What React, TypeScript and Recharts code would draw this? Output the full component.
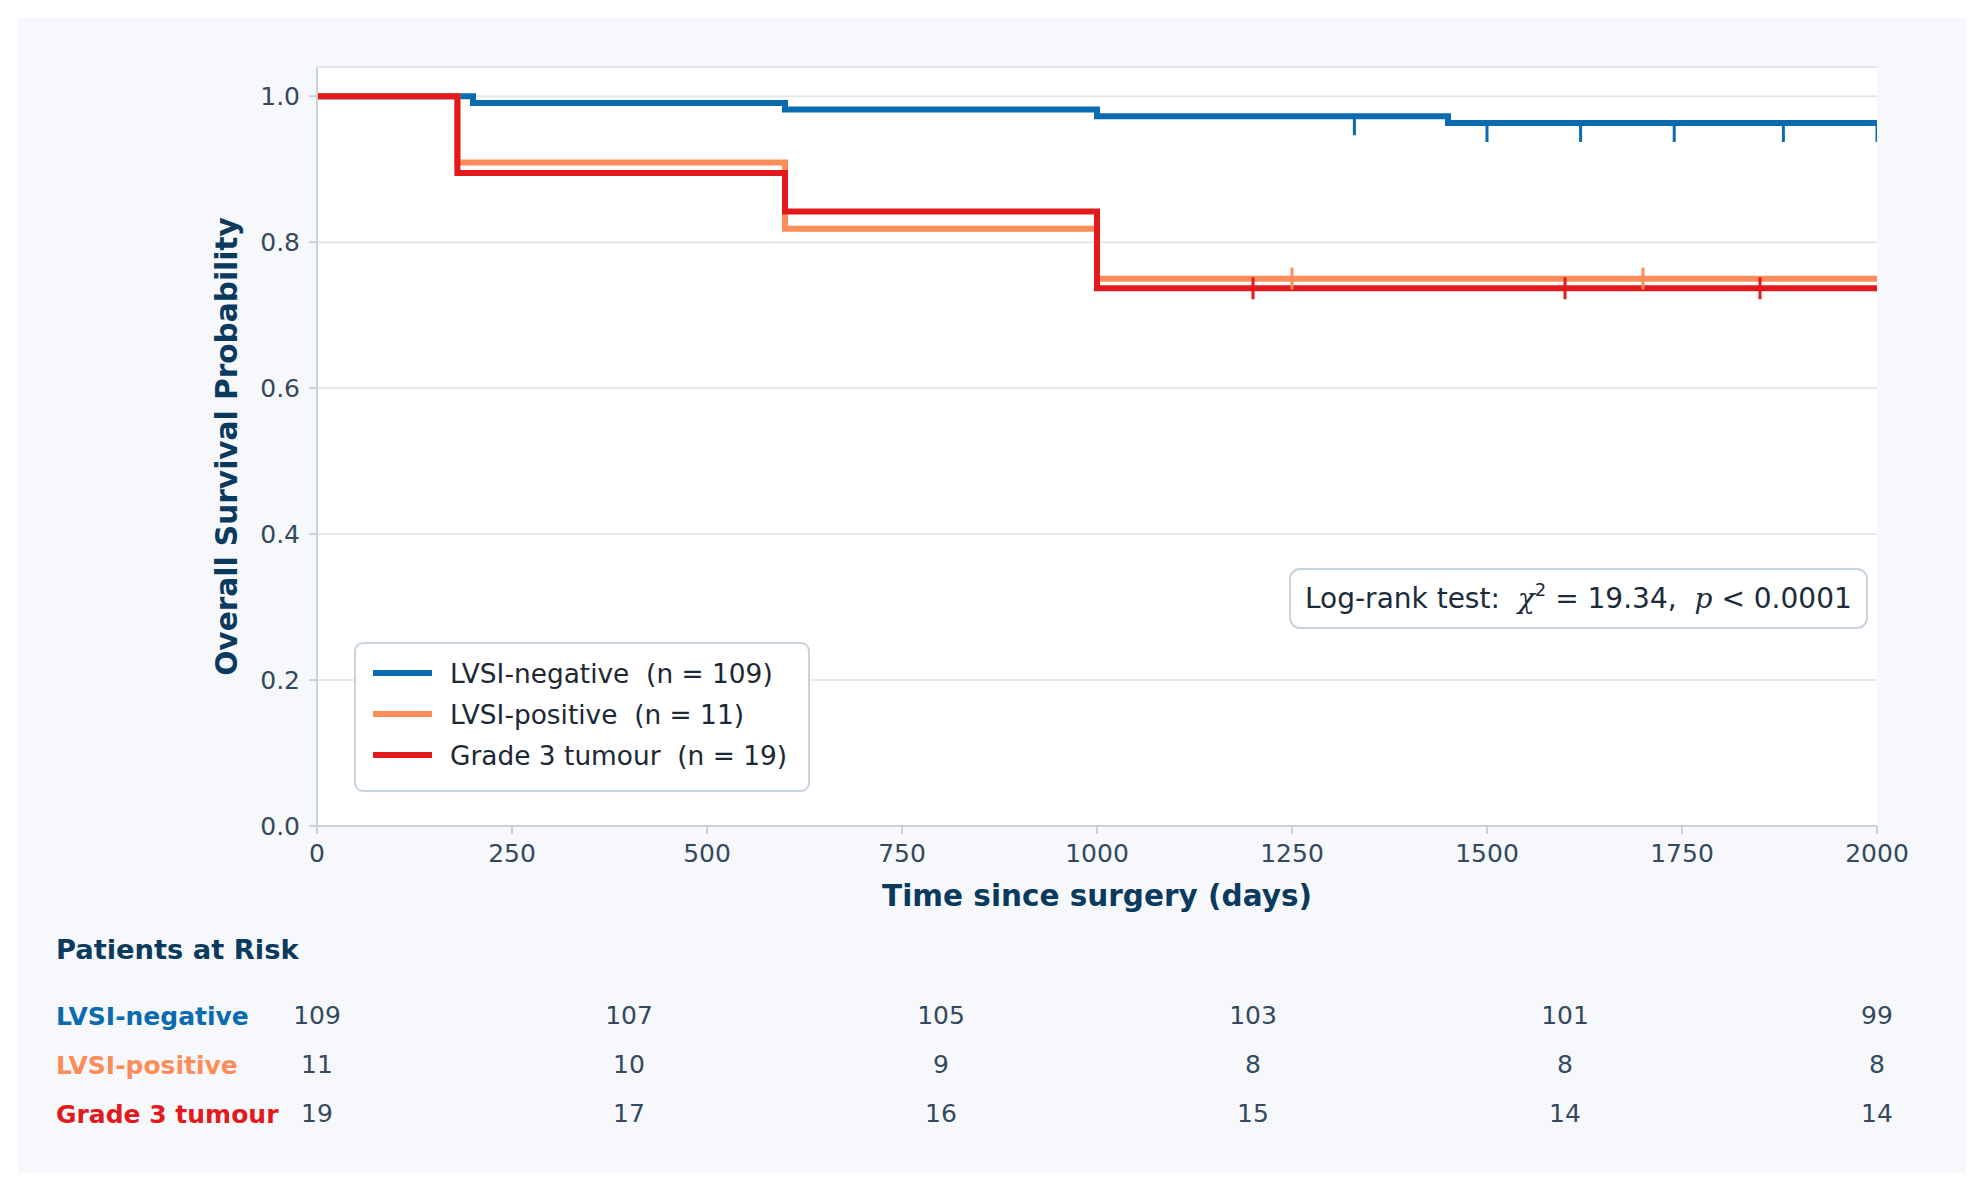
import React from 'react'
import { ComposedChart, Line, Scatter, XAxis, YAxis, CartesianGrid } from 'recharts'

// Kaplan-Meier step points (time in days, survival probability)
const lvsiNeg = [
  { t: 0, s: 1 },
  { t: 200, s: 0.9908 },
  { t: 600, s: 0.9817 },
  { t: 1000, s: 0.9725 },
  { t: 1450, s: 0.9633 },
  { t: 2000, s: 0.9633 }
]
const lvsiPos = [
  { t: 0, s: 1 },
  { t: 180, s: 0.9091 },
  { t: 600, s: 0.8182 },
  { t: 1000, s: 0.75 },
  { t: 2000, s: 0.75 }
]
const grade3 = [
  { t: 0, s: 1 },
  { t: 180, s: 0.8947 },
  { t: 600, s: 0.8421 },
  { t: 1000, s: 0.7368 },
  { t: 2000, s: 0.7368 }
]

// censored observations
const censNeg = [
  { t: 1330, s: 0.9725 },
  { t: 1500, s: 0.9633 },
  { t: 1620, s: 0.9633 },
  { t: 1740, s: 0.9633 },
  { t: 1880, s: 0.9633 },
  { t: 2000, s: 0.9633 }
]
const censPos = [
  { t: 1250, s: 0.75 },
  { t: 1700, s: 0.75 }
]
const censG3 = [
  { t: 1200, s: 0.7368 },
  { t: 1600, s: 0.7368 },
  { t: 1850, s: 0.7368 }
]

const xTicks = [0, 250, 500, 750, 1000, 1250, 1500, 1750, 2000]
const yTicks = [0, 0.2, 0.4, 0.6, 0.8, 1.0]

// numbers at risk
const riskTimes = [0, 400, 800, 1200, 1600, 2000]
const riskNeg = [109, 107, 105, 103, 101, 99]
const riskPos = [11, 10, 9, 8, 8, 8]
const riskG3 = [19, 17, 16, 15, 14, 14]

const BLUE = '#0a6bb0'
const ORANGE = '#fc8d59'
const RED = '#e31a1c'
const NAVY = '#0b3a5f'
const TICK = '#34495e'
const SPINE = '#c8d2de'
const FONT = 'DejaVu Sans, sans-serif'

const legendItems = [
  { label: 'LVSI-negative  (n = 109)', color: BLUE },
  { label: 'LVSI-positive  (n = 11)', color: ORANGE },
  { label: 'Grade 3 tumour  (n = 19)', color: RED }
]

const riskRows = [
  { label: 'LVSI-negative', color: BLUE, counts: riskNeg },
  { label: 'LVSI-positive', color: ORANGE, counts: riskPos },
  { label: 'Grade 3 tumour', color: RED, counts: riskG3 }
]

// invisible carrier so the risk axis gets a domain and renders its ticks
const riskAnchor = riskTimes.map((t) => ({ t, s: 0 }))

function censorShape(color: string, down: boolean) {
  return (p: any) => (
    <line
      x1={p.cx}
      x2={p.cx}
      y1={down ? p.cy - 2 : p.cy - 11}
      y2={down ? p.cy + 19 : p.cy + 11}
      stroke={color}
      strokeWidth={3}
    />
  )
}

function RiskTick(props: any) {
  const { x, y, payload } = props
  const i = riskTimes.indexOf(Number(payload?.value))
  if (i < 0) return <g />
  return (
    <g>
      {riskRows.map((r, k) => (
        <text key={k} x={x} y={y + 108 + k * 49} textAnchor='middle' fontSize={25} fill={TICK} fontFamily={FONT}>
          {r.counts[i]}
        </text>
      ))}
    </g>
  )
}

function YLabel(props: any) {
  const vb = props.viewBox
  const cx = 237
  const cy = vb.y + vb.height / 2
  return (
    <text
      x={cx}
      y={cy}
      transform={`rotate(-90 ${cx} ${cy})`}
      textAnchor='middle'
      fontSize={29.6}
      fontWeight='bold'
      fill={NAVY}
      fontFamily={FONT}
    >
      Overall Survival Probability
    </text>
  )
}

export default function App() {
  return (
    <div style={{ position: 'relative', width: 1981, height: 1189, background: '#ffffff', fontFamily: FONT }}>
      <style>{'body{margin:0}'}</style>
      <div style={{ position: 'absolute', left: 18, top: 18, width: 1948, height: 1155, background: '#f7f8fc' }} />

      <div style={{ position: 'absolute', left: 0, top: 0 }}>
        <ComposedChart width={1981} height={1189} margin={{ top: 67, right: 104, bottom: 53, left: 217 }}>
          <CartesianGrid vertical={false} stroke='#e3e8ef' strokeWidth={2} fill='#ffffff' />
          <XAxis
            type='number'
            dataKey='t'
            domain={[0, 2000]}
            ticks={xTicks}
            interval={0}
            allowDataOverflow
            height={90}
            tickSize={8}
            tickMargin={10}
            axisLine={{ stroke: SPINE, strokeWidth: 2 }}
            tickLine={{ stroke: SPINE, strokeWidth: 2 }}
            tick={{ fontSize: 25, fill: TICK, fontFamily: FONT }}
            label={{
              value: 'Time since surgery (days)',
              position: 'insideBottom',
              offset: 10,
              fontSize: 29.5,
              fontWeight: 'bold',
              fill: NAVY,
              fontFamily: FONT
            }}
          />
          <XAxis
            xAxisId='risk'
            type='number'
            dataKey='t'
            domain={[0, 2000]}
            ticks={riskTimes}
            interval={0}
            allowDataOverflow
            height={220}
            tickSize={0}
            tickMargin={0}
            axisLine={false}
            tickLine={false}
            tick={(p: any) => <RiskTick {...p} />}
          />
          <YAxis
            type='number'
            dataKey='s'
            domain={[0, 1.04]}
            ticks={yTicks}
            interval={0}
            allowDataOverflow
            width={100}
            tickSize={8}
            tickMargin={9}
            tickFormatter={(v: number) => v.toFixed(1)}
            axisLine={{ stroke: SPINE, strokeWidth: 2 }}
            tickLine={{ stroke: SPINE, strokeWidth: 2 }}
            tick={{ fontSize: 25, fill: TICK, fontFamily: FONT }}
            label={<YLabel />}
          />
          <Line
            xAxisId='risk'
            data={riskAnchor}
            dataKey='s'
            stroke='none'
            strokeOpacity={0}
            dot={false}
            activeDot={false}
            legendType='none'
            isAnimationActive={false}
          />
          <Line data={lvsiNeg} dataKey='s' type='stepAfter' stroke={BLUE} strokeWidth={6} dot={false} activeDot={false} isAnimationActive={false} strokeLinejoin='miter' />
          <Line data={lvsiPos} dataKey='s' type='stepAfter' stroke={ORANGE} strokeWidth={6} dot={false} activeDot={false} isAnimationActive={false} strokeLinejoin='miter' />
          <Line data={grade3} dataKey='s' type='stepAfter' stroke={RED} strokeWidth={6} dot={false} activeDot={false} isAnimationActive={false} strokeLinejoin='miter' />
          <Scatter data={censNeg} dataKey='s' shape={censorShape(BLUE, true)} isAnimationActive={false} />
          <Scatter data={censPos} dataKey='s' shape={censorShape(ORANGE, false)} isAnimationActive={false} />
          <Scatter data={censG3} dataKey='s' shape={censorShape(RED, false)} isAnimationActive={false} />
        </ComposedChart>
      </div>

      {/* legend, log-rank box and risk table labels */}
      <svg width={1981} height={1189} style={{ position: 'absolute', left: 0, top: 0, pointerEvents: 'none' }}>
        <rect x={355} y={643} width={454} height={148} rx={8} fill='#ffffff' stroke={SPINE} strokeWidth={2} />
        {legendItems.map((it, i) => {
          const cy = 673 + i * 41
          return (
            <g key={i}>
              <line x1={373} x2={432} y1={cy} y2={cy} stroke={it.color} strokeWidth={6} />
              <text x={450} y={cy + 9.5} fontSize={26.4} fill='#1c2833' fontFamily={FONT} style={{ whiteSpace: 'pre' }}>
                {it.label}
              </text>
            </g>
          )
        })}

        <rect x={1290} y={569} width={577} height={59} rx={10} fill='#ffffff' stroke={SPINE} strokeWidth={2} />
        <text x={1305} y={608} fontSize={28} fill='#1c2b39' fontFamily={FONT} style={{ whiteSpace: 'pre' }}>
          <tspan>Log-rank test:</tspan>
          <tspan dx={18} fontFamily='DejaVu Serif, serif' fontStyle='italic'>χ</tspan>
          <tspan dy={-12} fontSize={18}>2</tspan>
          <tspan dy={12}>{' = 19.34,'}</tspan>
          <tspan dx={18} fontFamily='DejaVu Serif, serif' fontStyle='italic'>p</tspan>
          <tspan>{' < 0.0001'}</tspan>
        </text>

        <text x={56} y={959} fontSize={27.3} fontWeight='bold' fill={NAVY} fontFamily={FONT}>
          Patients at Risk
        </text>
        {riskRows.map((r, i) => (
          <text key={i} x={56} y={1025 + i * 49} fontSize={25} fontWeight='bold' fill={r.color} fontFamily={FONT}>
            {r.label}
          </text>
        ))}
      </svg>
    </div>
  )
}
